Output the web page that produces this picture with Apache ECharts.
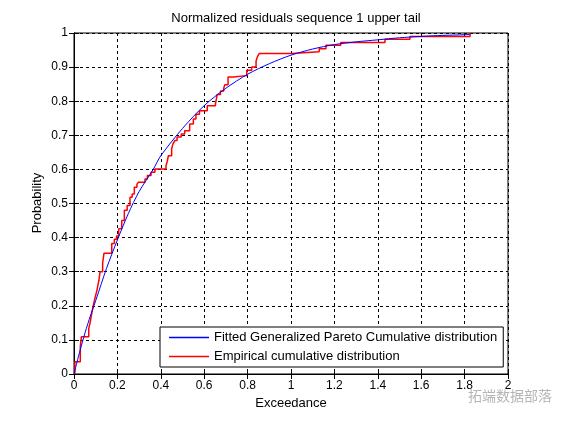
<!DOCTYPE html>
<html>
<head>
<meta charset="utf-8">
<script src="https://cdn.jsdelivr.net/npm/echarts@6/dist/echarts.min.js"></script>
<style>html,body{margin:0;padding:0;background:#fff}#c{width:562px;height:422px}</style>
</head>
<body>
<div id="c"></div>
<script>
// Fitted generalized Pareto CDF
var fitX = [0, 0.02, 0.045, 0.07, 0.1, 0.15, 0.2, 0.25, 0.3, 0.365, 0.4, 0.5, 0.6, 0.7, 0.8, 0.9, 1.0, 1.1, 1.2, 1.3, 1.4, 1.5, 1.6, 1.7, 1.8, 1.826];
var fitY = [0, 0.05, 0.108, 0.16, 0.215, 0.31, 0.393, 0.47, 0.535, 0.6, 0.64, 0.72, 0.787, 0.838, 0.879, 0.91, 0.935, 0.953, 0.966, 0.974, 0.98, 0.986, 0.99, 0.993, 0.995, 0.996];
// Empirical CDF jump points (x, value after jump)
var empX = [0.004, 0.004, 0.029, 0.034, 0.068, 0.075, 0.08, 0.086, 0.091, 0.098, 0.106, 0.11, 0.115, 0.12, 0.132, 0.138, 0.174, 0.186, 0.196, 0.206, 0.22, 0.232, 0.245, 0.258, 0.268, 0.278, 0.29, 0.296, 0.327, 0.338, 0.355, 0.373, 0.424, 0.43, 0.435, 0.45, 0.456, 0.465, 0.475, 0.494, 0.51, 0.533, 0.55, 0.562, 0.578, 0.614, 0.652, 0.66, 0.675, 0.69, 0.695, 0.71, 0.735, 0.796, 0.819, 0.839, 0.845, 0.854, 1.003, 1.13, 1.161, 1.229, 1.433, 1.548, 1.825];
var empY = [0, 0.036, 0.08, 0.109, 0.133, 0.153, 0.172, 0.192, 0.207, 0.226, 0.246, 0.26, 0.275, 0.30, 0.325, 0.354, 0.383, 0.395, 0.405, 0.426, 0.45, 0.48, 0.494, 0.518, 0.528, 0.548, 0.556, 0.562, 0.572, 0.582, 0.592, 0.601, 0.611, 0.624, 0.64, 0.66, 0.675, 0.685, 0.695, 0.704, 0.713, 0.733, 0.748, 0.762, 0.772, 0.787, 0.793, 0.82, 0.83, 0.838, 0.848, 0.871, 0.875, 0.891, 0.90, 0.918, 0.93, 0.94, 0.945, 0.954, 0.964, 0.972, 0.982, 0.99, 1.0];
var seriesNames = ['Fitted Generalized Pareto Cumulative distribution', 'Empirical cumulative distribution'];
var titleText = 'Normalized residuals sequence 1 upper tail';
var xName = 'Exceedance';
var yName = 'Probability';

var FONT = '"Liberation Sans", Arial, Helvetica, sans-serif';
function pairs(xs, ys) { return xs.map(function (x, i) { return [x, ys[i]]; }); }

var chart = echarts.init(document.getElementById('c'), null, { renderer: 'canvas' });
var gridCfg = { left: 74, right: 54, top: 33, bottom: 48 };
var dash = { show: true, lineStyle: { color: '#000', type: [3, 3], width: 1 } };
chart.setOption({
  animation: false,
  backgroundColor: '#fff',
  title: { text: titleText, left: 291, textAlign: 'center', top: 7,
    textStyle: { fontFamily: FONT, fontSize: 13, fontWeight: 'normal', color: '#000' } },
  grid: Object.assign({ show: true, borderColor: '#000', borderWidth: 1, backgroundColor: '#fff' }, gridCfg),
  xAxis: [
    { type: 'value', min: 0, max: 2, interval: 0.2, position: 'bottom',
      axisLine: { show: true, lineStyle: { color: '#000' } },
      axisTick: { show: true, inside: true, length: 5, lineStyle: { color: '#000' } },
      axisLabel: { margin: 6, color: '#000', fontFamily: FONT, fontSize: 12 },
      splitLine: dash },
    { type: 'value', min: 0, max: 2, interval: 0.2, position: 'top',
      axisLine: { show: true, lineStyle: { color: '#000' } },
      axisTick: { show: true, inside: true, length: 5, lineStyle: { color: '#000' } },
      axisLabel: { show: false }, splitLine: { show: false } }
  ],
  yAxis: [
    { type: 'value', min: 0, max: 1, interval: 0.1, position: 'left',
      axisLine: { show: true, lineStyle: { color: '#000' } },
      axisTick: { show: true, inside: true, length: 5, lineStyle: { color: '#000' } },
      axisLabel: { margin: 6, color: '#000', fontFamily: FONT, fontSize: 12 },
      splitLine: dash },
    { type: 'value', min: 0, max: 1, interval: 0.1, position: 'right',
      axisLine: { show: true, lineStyle: { color: '#000' } },
      axisTick: { show: true, inside: true, length: 5, lineStyle: { color: '#000' } },
      axisLabel: { show: false }, splitLine: { show: false } }
  ],
  legend: {
    left: 160, top: 327, orient: 'vertical',
    backgroundColor: '#fff', borderColor: '#000', borderWidth: 1,
    padding: [3, 6, 3, 9], itemGap: 4, itemWidth: 40, itemHeight: 1.5,
    textStyle: { fontFamily: FONT, fontSize: 13, color: '#000', lineHeight: 15 },
    data: [
      { name: seriesNames[0], icon: 'rect', itemStyle: { color: '#0000ff' } },
      { name: seriesNames[1], icon: 'rect', itemStyle: { color: '#ff0000' } }
    ]
  },
  series: [
    { name: seriesNames[0], type: 'line', smooth: 0.3, symbol: 'none', z: 3,
      lineStyle: { color: '#0000ff', width: 1 }, itemStyle: { color: '#0000ff' },
      data: pairs(fitX, fitY) },
    { name: seriesNames[1], type: 'line', step: 'end', symbol: 'none', z: 2,
      lineStyle: { color: '#ff0000', width: 1.5 }, itemStyle: { color: '#ff0000' },
      data: pairs(empX, empY) }
  ],
  graphic: [
    { type: 'text', x: 291, y: 403, style: { text: xName, font: '13px ' + FONT, fill: '#000', textAlign: 'center', textVerticalAlign: 'middle' } },
    { type: 'text', x: 37, y: 203, rotation: Math.PI / 2, style: { text: yName, font: '13px ' + FONT, fill: '#000', textAlign: 'center', textVerticalAlign: 'middle' } },
    { type: 'text', right: 10, top: 389, style: { text: '拓端数据部落', font: '14px "Noto Sans CJK SC"', fill: 'rgba(120,120,120,0.55)' } }
  ]
});
</script>
</body>
</html>
